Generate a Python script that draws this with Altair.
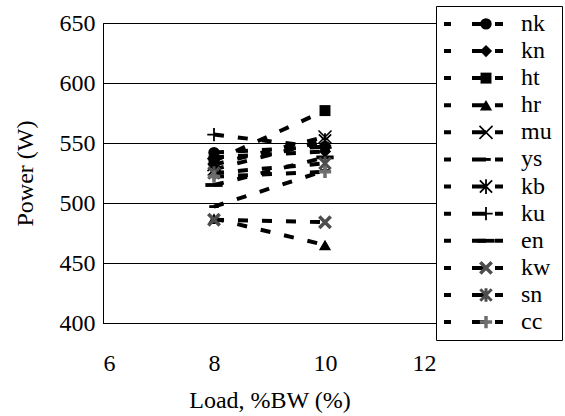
import altair as alt
import pandas as pd

# ---- data ----
series = ["nk", "kn", "ht", "hr", "mu", "ys", "kb", "ku", "en", "kw", "sn", "cc"]
load_levels = [8, 10]
power_at_8 = [542, 538, 535, 487, 532, 497, 528, 557, 515, 486, 525, 522]
power_at_10 = [547, 543, 577, 465, 555, 527, 552, 546, 538, 484, 533, 526]
x_ticks = [6, 8, 10, 12]
y_ticks = [400, 450, 500, 550, 600, 650]

rows = []
for i, s in enumerate(series):
    rows.append({"series": s, "load": load_levels[0], "power": power_at_8[i]})
    rows.append({"series": s, "load": load_levels[1], "power": power_at_10[i]})
df = pd.DataFrame(rows)
leg_df = pd.DataFrame({"series": series})

# ---- marker styles ----
X_PATH = "M-1,-1L1,1M1,-1L-1,1"
PLUS_PATH = "M-1,0L1,0M0,-1L0,1"
AST_PATH = "M-1,-1L1,1M1,-1L-1,1M0,-1.2L0,1.2"
BAR_PATH = "M-1,-0.22L1,-0.22L1,0.22L-1,0.22Z"
SMALLBAR_PATH = "M-1,-0.3L1,-0.3L1,0.3L-1,0.3Z"

styles = {
    "nk": dict(shape="circle", size=130, filled=True, color="black"),
    "kn": dict(shape="diamond", size=150, filled=True, color="black"),
    "ht": dict(shape="square", size=120, filled=True, color="black"),
    "hr": dict(shape="triangle-up", size=150, filled=True, color="black"),
    "mu": dict(shape=X_PATH, size=170, filled=False, color="black", strokeWidth=1.6),
    "ys": dict(shape=SMALLBAR_PATH, size=90, filled=True, color="black"),
    "kb": dict(shape=AST_PATH, size=150, filled=False, color="black", strokeWidth=1.8),
    "ku": dict(shape=PLUS_PATH, size=180, filled=False, color="black", strokeWidth=1.8),
    "en": dict(shape=BAR_PATH, size=300, filled=True, color="black"),
    "kw": dict(shape=X_PATH, size=130, filled=False, color="#4d4d4d", strokeWidth=3.5),
    "sn": dict(shape=AST_PATH, size=130, filled=False, color="#4d4d4d", strokeWidth=3),
    "cc": dict(shape=PLUS_PATH, size=150, filled=False, color="#6e6e6e", strokeWidth=3.5),
}

FONT = "Liberation Serif"

# ---- main plot ----
x_enc = alt.X("load:Q", scale=alt.Scale(domain=[6, 12], nice=False, zero=False),
              axis=alt.Axis(values=x_ticks, title="Load, %BW (%)", grid=False, ticks=False,
                            labelPadding=28, titlePadding=13))
y_enc = alt.Y("power:Q", scale=alt.Scale(domain=[400, 650], nice=False, zero=False),
              axis=alt.Axis(values=y_ticks, title="Power (W)", grid=True, ticks=False,
                            labelPadding=8, titlePadding=22))

base = alt.Chart(df).encode(x=x_enc, y=y_enc)
lines = base.mark_line(color="black", strokeDash=[10, 14], strokeWidth=4).encode(
    detail="series:N")

point_layers = []
for s in series:
    st = styles[s]
    kw = dict(shape=st["shape"], size=st["size"], filled=st["filled"],
              color=st["color"], opacity=1)
    if "strokeWidth" in st:
        kw["strokeWidth"] = st["strokeWidth"]
    point_layers.append(
        base.transform_filter(alt.datum.series == s).mark_point(**kw)
    )

main = alt.layer(lines, *point_layers).properties(width=333, height=300)

# ---- legend panel ----
ly = alt.Y("series:N", scale=alt.Scale(type="point", domain=series, padding=0.66),
           axis=None)
leg_base = alt.Chart(leg_df)
leg_rule = leg_base.mark_rule(color="black", strokeWidth=4,
                              strokeDash=[7, 21, 14, 9, 8]).encode(
    y=ly, x=alt.value(8), x2=alt.value(67))
leg_marks = []
for s in series:
    st = styles[s]
    kw = dict(shape=st["shape"], size=st["size"], filled=st["filled"],
              color=st["color"], opacity=1)
    if "strokeWidth" in st:
        kw["strokeWidth"] = st["strokeWidth"]
    leg_marks.append(
        leg_base.transform_filter(alt.datum.series == s).mark_point(**kw).encode(
            y=ly, x=alt.value(50))
    )
leg_text = leg_base.mark_text(align="left", baseline="middle", font=FONT,
                              fontSize=24, color="black").encode(
    y=ly, x=alt.value(85), text="series:N")

legend = alt.layer(leg_rule, *leg_marks, leg_text).properties(width=126, height=334)

chart = alt.hconcat(main, legend, spacing=0, bounds="flush", center=True).properties(
    padding={"left": 12, "top": 5, "right": 0, "bottom": 0}
).configure_view(
    stroke="black", strokeWidth=1
).configure_axis(
    domainColor="black", domainWidth=1,
    gridColor="black", gridWidth=1, gridOpacity=1,
    labelFont=FONT, labelFontSize=24, labelColor="black",
    titleFont=FONT, titleFontSize=24, titleFontWeight="normal", titleColor="black",
)

chart.save("out.html", embed_options={"renderer": "svg", "actions": False})
